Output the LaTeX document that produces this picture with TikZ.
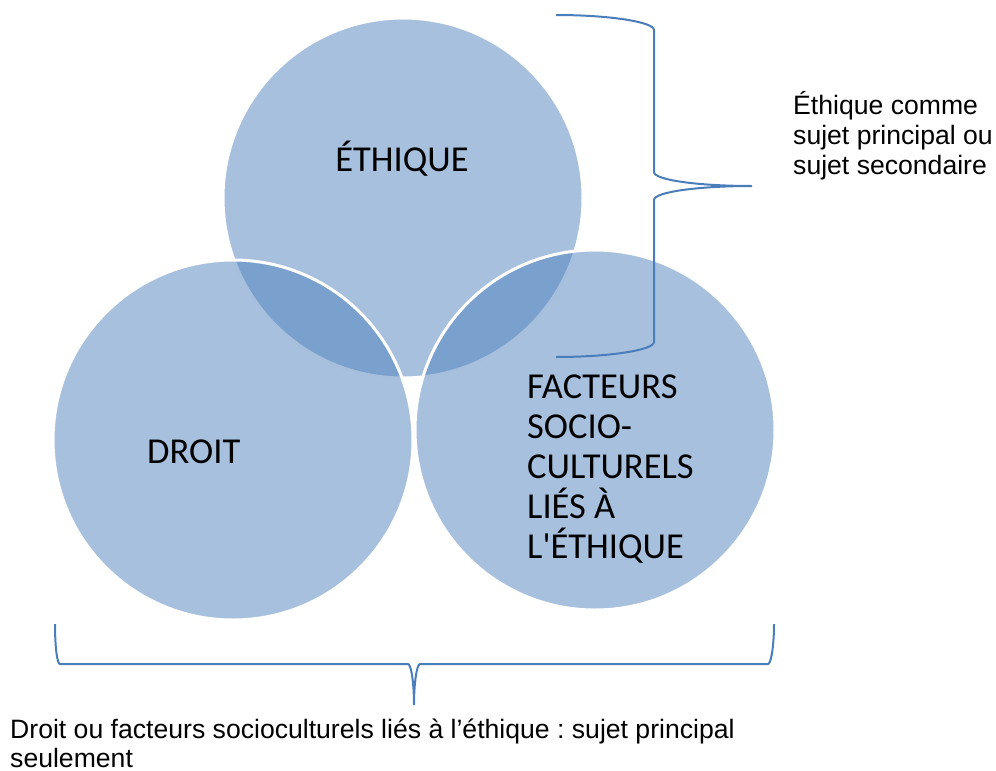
\documentclass[tikz,border=0pt]{standalone}
\usepackage{fontspec}
\setmainfont{Carlito}
\newfontfamily\arialfont{Liberation Sans}
\definecolor{circblue}{RGB}{79,129,189}
\definecolor{bracecol}{RGB}{74,126,187}
\frenchspacing
\begin{document}
\begin{tikzpicture}[x=1pt,y=-1pt,
  venn/.style={fill=circblue,fill opacity=0.5,draw=white,draw opacity=1,line width=3pt},
  bracelook/.style={draw=bracecol,line width=2pt},
  circlabel/.style={inner sep=0pt,font=\fontsize{36.5}{40}\selectfont,text=black},
  notelabel/.style={inner sep=0pt,font=\arialfont\fontsize{26.6}{29.7}\selectfont,text=black,align=left}]
\useasboundingbox (0,0) rectangle (996,771);
% circles
\path[venn] (403,198) circle[radius=180];
\path[venn] (233,440) circle[radius=180];
\path[venn] (595,430) circle[radius=180];
% circle labels
\node[circlabel,anchor=base] (eth) at (402,171.5) {ÉTHIQUE};
\node[circlabel,anchor=base west] (dro) at (147,463.5) {DROIT};
\node[circlabel,anchor=north west,align=left] (fac) at (527,375) {FACTEURS\\SOCIO-\\CULTURELS\\LIÉS À\\L\textquotesingle ÉTHIQUE};
% right brace
\coordinate (rbA) at (556,15);
\coordinate (rbB) at (654,30);
\coordinate (rbC) at (654,172);
\coordinate (rbT) at (752,186);
\coordinate (rbD) at (654,200);
\coordinate (rbE) at (654,342);
\coordinate (rbF) at (556,357);
\draw[bracelook] (rbA) .. controls (610,15) and (654,22) .. (rbB) -- (rbC)
  .. controls (654,180) and (698,186) .. (rbT)
  .. controls (698,186) and (654,192) .. (rbD) -- (rbE)
  .. controls (654,350) and (610,357) .. (rbF);
% bottom brace
\coordinate (bbA) at (55,624);
\coordinate (bbB) at (60,664);
\coordinate (bbC) at (408,664);
\coordinate (bbT) at (414,705);
\coordinate (bbD) at (420,664);
\coordinate (bbE) at (768,664);
\coordinate (bbF) at (774,624);
\draw[bracelook] (bbA) .. controls (55,646) and (57,664) .. (bbB) -- (bbC)
  .. controls (411,664) and (414,682) .. (bbT)
  .. controls (414,682) and (417,664) .. (bbD) -- (bbE)
  .. controls (771,664) and (774,646) .. (bbF);
% notes
\node[notelabel,anchor=north west] (note1) at (793,91.5) {Éthique comme\\sujet principal ou\\sujet secondaire};
\node[notelabel,anchor=north west] (note2) at (10,718.5) {Droit ou facteurs socioculturels liés à l’éthique : sujet principal\\seulement};
\end{tikzpicture}
\end{document}
